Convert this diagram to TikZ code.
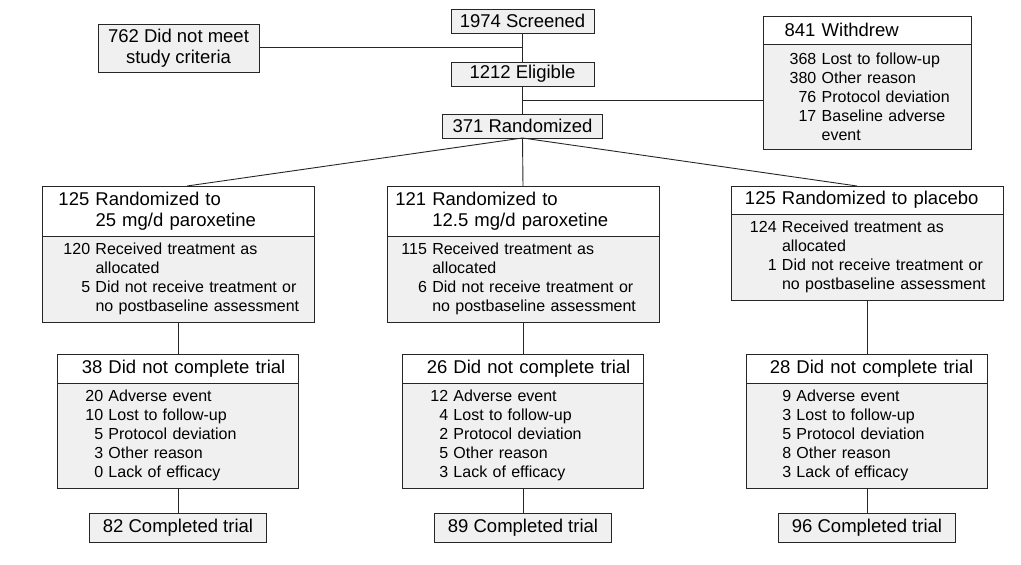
\documentclass[tikz,border=0pt]{standalone}
\usepackage{fontspec}
\setmainfont{Liberation Sans}
\usetikzlibrary{positioning,calc}
\definecolor{boxgray}{RGB}{240,240,240}
\newlength\numw
\newcommand{\nm}[1]{\makebox[\numw][r]{#1\ }}
\tikzset{
    box/.style={
        draw=black!85,line width=.9pt,
        fill=boxgray,
        outer sep=0pt,inner sep=0pt,
        font=\fontsize{18.5}{21}\selectfont
    },
    numcol/.code={\setlength\numw{#1}},
    hdr/.style={box,fill=white,align=left,inner xsep=6pt},
    lst/.style={box,align=left,inner xsep=6pt,
        font=\fontsize{16}{19}\selectfont},
    tally/.style={box,align=center},
    link/.style={draw=black!85,line width=.9pt},
}

\begin{document}
\begin{tikzpicture}[x=1pt,y=-1pt]
		\useasboundingbox (0,0) rectangle (1021,565);
		\node[tally,anchor=north west,minimum width=143,minimum height=24] (scr) at (451,9) {1974 Screened};
		\node[tally,minimum width=143,minimum height=24,below=29pt of scr] (elig) {1212 Eligible};
		\node[tally,minimum width=160,minimum height=24,below=28pt of elig] (rand) {371 Randomized};
		\node[tally,anchor=north west,minimum width=161,minimum height=48] (nomeet) at (98,24) {762 Did not meet\\study criteria};

		\node[hdr,numcol=52.7pt,text width=196pt,minimum height=28,anchor=north west] (wd) at (763,16) {\nm{841}Withdrew};
		\node[lst,numcol=52.7pt,text width=196pt,minimum height=105,below=0pt of wd] (wdb)
		{\nm{368}Lost to follow-up\\ \nm{380}Other reason\\ \nm{76}Protocol deviation\\ \nm{17}Baseline adverse\\ \nm{}event};

		\node[hdr,numcol=47.5pt,text width=260pt,minimum height=50,anchor=north west] (arm1) at (42,186)
		{\nm{125}Randomized to\\ \nm{}25 mg/d paroxetine};
		\node[lst,numcol=47.5pt,text width=260pt,minimum height=86,below=0pt of arm1] (arm1b)
		{\nm{120}Received treatment as\\ \nm{}allocated\\ \nm{5}Did not receive treatment or\\ \nm{}no postbaseline assessment};

		\node[hdr,numcol=39.3pt,text width=260pt,minimum height=50,anchor=north west] (arm2) at (387,186)
		{\nm{121}Randomized to\\ \nm{}12.5 mg/d paroxetine};
		\node[lst,numcol=39.3pt,text width=260pt,minimum height=86,below=0pt of arm2] (arm2b)
		{\nm{115}Received treatment as\\ \nm{}allocated\\ \nm{6}Did not receive treatment or\\ \nm{}no postbaseline assessment};

		\node[hdr,numcol=45pt,text width=260pt,minimum height=28,anchor=north west] (arm3) at (731,186)
		{\nm{125}Randomized to placebo};
		\node[lst,numcol=45pt,text width=260pt,minimum height=86,below=0pt of arm3] (arm3b)
		{\nm{124}Received treatment as\\ \nm{}allocated\\ \nm{1}Did not receive treatment or\\ \nm{}no postbaseline assessment};

		\node[hdr,numcol=45pt,text width=229pt,minimum height=29,below=32pt of arm1b] (drop1) {\nm{38}Did not complete trial};
		\node[lst,numcol=45pt,text width=229pt,minimum height=105,below=0pt of drop1] (drop1b)
		{\nm{20}Adverse event\\ \nm{10}Lost to follow-up\\ \nm{5}Protocol deviation\\ \nm{3}Other reason\\ \nm{0}Lack of efficacy};

		\node[hdr,numcol=45pt,text width=229pt,minimum height=29,below=32pt of arm2b] (drop2) {\nm{26}Did not complete trial};
		\node[lst,numcol=45pt,text width=229pt,minimum height=105,below=0pt of drop2] (drop2b)
		{\nm{12}Adverse event\\ \nm{4}Lost to follow-up\\ \nm{2}Protocol deviation\\ \nm{5}Other reason\\ \nm{3}Lack of efficacy};

		\node[hdr,numcol=44pt,text width=229pt,minimum height=29,below=54pt of arm3b] (drop3) {\nm{28}Did not complete trial};
		\node[lst,numcol=44pt,text width=229pt,minimum height=105,below=0pt of drop3] (drop3b)
		{\nm{9}Adverse event\\ \nm{3}Lost to follow-up\\ \nm{5}Protocol deviation\\ \nm{8}Other reason\\ \nm{3}Lack of efficacy};

		\foreach \i/\n in {1/82,2/89,3/96}
		\node[tally,minimum width=177,minimum height=29,below=25pt of drop\i b] (done\i) {\n\ Completed trial};

		\draw[link] (scr) -- (elig);
		\draw[link] (elig) -- (rand);
		\coordinate (cut1) at ($(scr.south)!.5!(elig.north)$);
		\coordinate (cut2) at ($(elig.south)!.5!(rand.north)$);
		\draw[link] (cut1) -- (cut1 -| nomeet.east);
		\draw[link] (cut2) -- (cut2 -| wdb.west);
		\draw[link] (rand.south) -- ([xshift=9pt]arm1.north);
		\draw[link] (rand.south) -- (arm2.north);
		\draw[link] (rand.south) -- ([xshift=-10pt]arm3.north);
		\foreach \i in {1,2,3} {
			\draw[link] (arm\i b) -- (drop\i);
			\draw[link] (drop\i b) -- (done\i);
		}
	\end{tikzpicture}
\end{document}
